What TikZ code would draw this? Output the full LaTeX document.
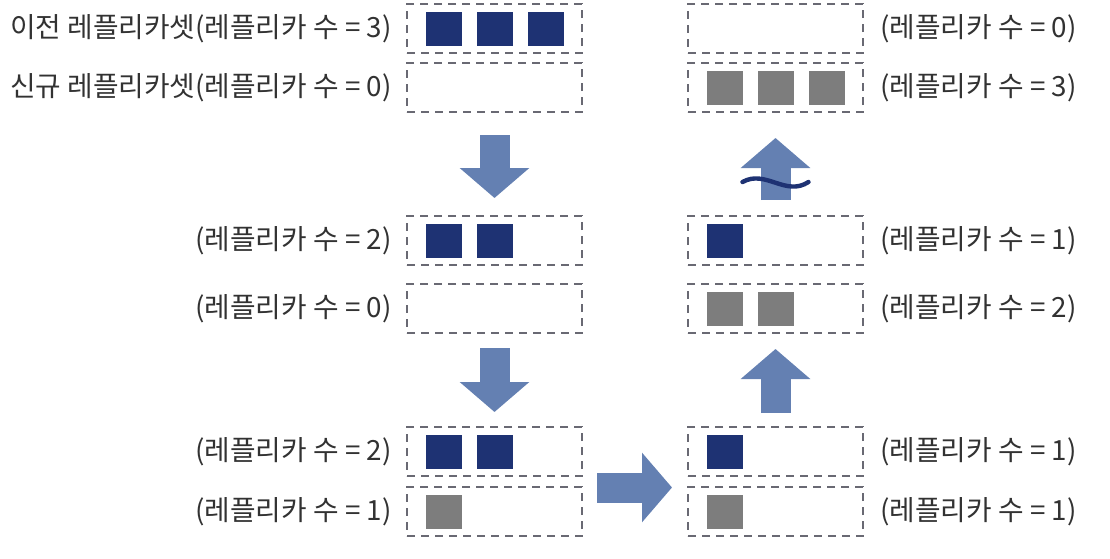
\documentclass[tikz,border=0pt]{standalone}
\usepackage{fontspec}
\setmainfont{Noto Sans CJK KR}
\usepackage{xcolor}
\definecolor{navy}{RGB}{30, 50, 115}
\definecolor{podgray}{RGB}{125, 125, 125}
\definecolor{flowblue}{RGB}{100, 128, 178}
\definecolor{slotline}{RGB}{105, 105, 115}
\definecolor{txt}{RGB}{50, 50, 50}
\usetikzlibrary{arrows.meta,positioning,calc}

\begin{document}
\begin{tikzpicture}[
  x=1pt, y=1pt,
  slot/.style={draw=slotline, dash pattern=on 4pt off 3pt, line width=1.1pt, minimum width=87.5pt, minimum height=24.5pt, inner sep=0pt, outer sep=0pt},
  oldpod/.style={fill=navy, minimum width=18pt, minimum height=17pt, inner sep=0pt},
  newpod/.style={fill=podgray, minimum width=18pt, minimum height=17pt, inner sep=0pt},
  lbl/.style={font=\fontsize{13.9}{16}\selectfont, text=txt, inner sep=0pt},
  flow/.style={draw=flowblue, line width=15pt, -{Triangle[length=15pt, width=34pt]}},
  wave/.style={draw=navy, line width=2.2pt, line cap=round}
]
\useasboundingbox (0,0) rectangle (555,-279);

% left column
\node[slot] (l1) at (247.25,-14.25) {};
\node[slot, below=5pt of l1] (l2) {};
\node[slot, below=52pt of l2] (l3) {};
\node[slot, below=9.5pt of l3] (l4) {};
\node[slot, below=47pt of l4] (l5) {};
\node[slot, below=5.5pt of l5] (l6) {};

% right column
\foreach \i in {1,...,6}
  \node[slot, right=53pt of l\i] (r\i) {};

% replicas
\node[oldpod, right=9.5pt of l1.west] (l1a) {};
\node[oldpod, right=7pt of l1a] (l1b) {};
\node[oldpod, right=7pt of l1b] (l1c) {};
\node[oldpod, right=9.5pt of l3.west] (l3a) {};
\node[oldpod, right=7pt of l3a] (l3b) {};
\node[oldpod, right=9.5pt of l5.west] (l5a) {};
\node[oldpod, right=7pt of l5a] (l5b) {};
\node[newpod, right=9.5pt of l6.west] (l6a) {};
\node[newpod, right=9.5pt of r2.west] (r2a) {};
\node[newpod, right=7pt of r2a] (r2b) {};
\node[newpod, right=7pt of r2b] (r2c) {};
\node[oldpod, right=9.5pt of r3.west] (r3a) {};
\node[newpod, right=9.5pt of r4.west] (r4a) {};
\node[newpod, right=7pt of r4a] (r4b) {};
\node[oldpod, right=9.5pt of r5.west] (r5a) {};
\node[newpod, right=9.5pt of r6.west] (r6a) {};

% labels
\node[lbl, left=7.5pt of l1] (t1) {이전 레플리카셋(레플리카 수 = 3)};
\node[lbl, left=7.5pt of l2] (t2) {신규 레플리카셋(레플리카 수 = 0)};
\node[lbl, left=7.5pt of l3] (t3) {(레플리카 수 = 2)};
\node[lbl, left=7.5pt of l4] (t4) {(레플리카 수 = 0)};
\node[lbl, left=7.5pt of l5] (t5) {(레플리카 수 = 2)};
\node[lbl, left=7.5pt of l6] (t6) {(레플리카 수 = 1)};
\node[lbl, right=8.5pt of r1] (s1) {(레플리카 수 = 0)};
\node[lbl, right=8.5pt of r2] (s2) {(레플리카 수 = 3)};
\node[lbl, right=8.5pt of r3] (s3) {(레플리카 수 = 1)};
\node[lbl, right=8.5pt of r4] (s4) {(레플리카 수 = 2)};
\node[lbl, right=8.5pt of r5] (s5) {(레플리카 수 = 1)};
\node[lbl, right=8.5pt of r6] (s6) {(레플리카 수 = 1)};

% flow arrows
\coordinate (lgap) at ($(l5.south east)!.5!(l6.north east)+(0,-3pt)$);
\coordinate (rgap) at ($(r5.south west)!.5!(r6.north west)+(0,-3pt)$);
\draw[flow, shorten <=11.5pt, shorten >=9pt] (l2) -- (l3);
\draw[flow, shorten <=7.5pt, shorten >=7.5pt] (l4) -- (l5);
\draw[flow, shorten <=7.5pt, shorten >=8pt] (lgap) -- (rgap);
\draw[flow, shorten <=7pt, shorten >=8pt] (r5) -- (r4);
\draw[flow, shorten <=8pt, shorten >=13pt] (r3) -- (r2);

% cut mark
\coordinate (cut) at ($(r3.north)+(0,16.5pt)$);
\draw[wave] ($(cut)+(-16.5pt,0.5pt)$) .. controls ($(cut)+(-5pt,7pt)$) and ($(cut)+(5pt,-7pt)$) .. ($(cut)+(16.5pt,0.5pt)$);
\end{tikzpicture}
\end{document}
